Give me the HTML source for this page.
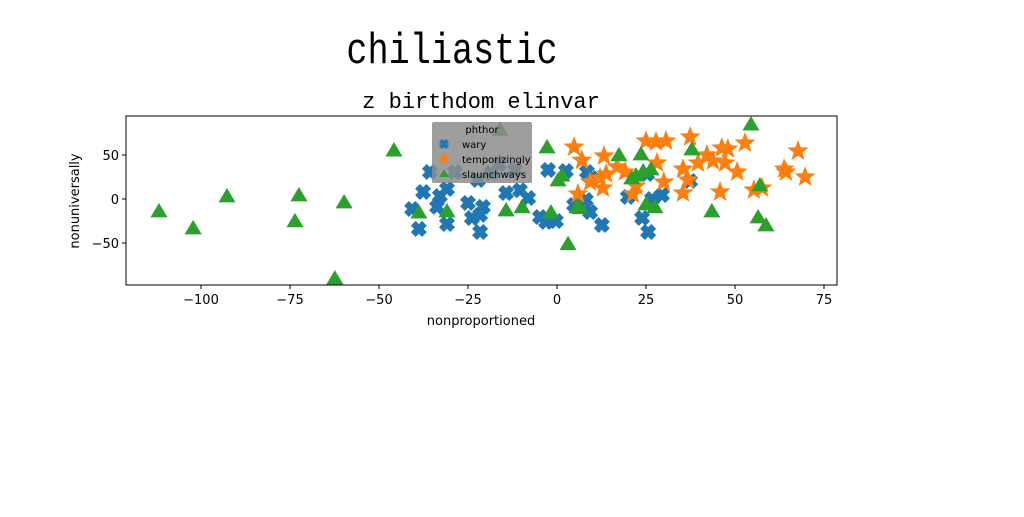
<!DOCTYPE html>
<html><head><meta charset="utf-8"><style>
body{margin:0;background:#fff;width:1024px;height:512px;overflow:hidden}
svg text{font-family:"DejaVu Sans","Liberation Sans",sans-serif}
</style></head><body>
<svg id="chart" width="1024" height="512" xmlns="http://www.w3.org/2000/svg">
<text x="0" y="0" font-size="44" text-anchor="middle" transform="translate(452,63) scale(0.8,1)" style="font-family:'Liberation Mono',monospace">chiliastic</text>
<text x="481" y="108" font-size="22" text-anchor="middle" style="font-family:'Liberation Mono',monospace">z birthdom elinvar</text>
<g id="plot"></g>
<rect x="126" y="116" width="711" height="169" fill="none" stroke="#000" stroke-width="1"/>
<text x="481" y="325" font-size="13" text-anchor="middle">nonproportioned</text>
<text transform="translate(79,201) rotate(-90)" font-size="13" text-anchor="middle">nonuniversally</text>
<g id="legend">
<rect x="432" y="122" width="100" height="61" fill="#8c8c8c" opacity="0.85" rx="2"/>
<text x="482" y="133" font-size="10" text-anchor="middle">phthor</text>
</g>
</svg>
<script>
const blueX=[-40.7,-38.8,-37.6,-35.7,-33.7,-32.9,-30.9,-30.9,-28.7,-25,-23.9,-21.6,-21.6,-20.8,-22.2,-18.5,-16.3,-14.3,-11.8,-10.4,-8.1,-4.8,-3.1,-0.3,-2.5,2.5,4.8,8.1,9.6,9.3,12.6,19.9,23.9,25.3,25.6,26.7,29.5,37.4,8.4];
const blueY=[-11.4,-34,8,30.7,-9,3.4,-28.4,11.4,30.7,-4.5,-21.6,-18,-37.5,-9,21.6,29.5,39.8,6.8,33,10,1.1,-20.5,-26,-25,33,31.8,-6.8,-1.1,23.9,-14.8,-29.5,2.3,-21.6,28.4,-37.5,0,4.5,20.5,30.7];
const orangeX=[4.8,7,5.9,12.1,13.2,12.9,16.9,19.1,21.3,22.2,25,27.8,28.1,30.6,30,35.4,35.4,37.4,36.8,39.6,42.1,43.8,45.8,46.3,48,47.2,50.6,52.8,55.3,57.6,63.8,64.3,67.7,69.7,9.3,13.8];
const orangeY=[59,44,5.7,23.9,48.9,12.5,36.4,30.7,5.7,14.8,65.9,64.8,40.9,65.9,19.3,6.8,34,70.5,21.6,40.9,50,43.2,8,58,56.8,40.9,30.7,63.6,10.2,12.5,34,30.7,54.5,25,19.3,28.4];
const greenX=[-111.8,-102.2,-92.7,-73.6,-72.5,-59.8,-62.4,-45.8,-38.8,-30.9,-16,-14.3,-9.8,-2.8,-1.7,0.3,1.4,3.1,5.6,6.5,17.4,21,22.2,23.6,24.2,25,26.4,27.5,37.9,43.5,54.5,57,56.5,58.7];
const greenY=[-14.8,-34,2.3,-26,3.4,-4.5,-91,54.5,-16,-14.8,78,-13.6,-10,58,-16,20.5,26,-52,-10,-11,49,22.7,26,50,30.7,-6.8,33,-10,55.7,-14.8,84,14.8,-21.6,-30.7];
const xTicks=[-100,-75,-50,-25,0,25,50,75];
const yTicks=[-50,0,50];
const NS="http://www.w3.org/2000/svg";
const sx=v=>557+v*3.56, sy=v=>199-v*0.88;
const plot=document.getElementById('plot');
function mk(tag,attrs,parent){const e=document.createElementNS(NS,tag);for(const k in attrs)e.setAttribute(k,attrs[k]);(parent||plot).appendChild(e);return e;}
function cross(cx,cy,s){const a=s*0.6,b=s;return `M${cx-b+a},${cy-b} L${cx},${cy-a} L${cx+b-a},${cy-b} L${cx+b},${cy-b+a} L${cx+a},${cy} L${cx+b},${cy+b-a} L${cx+b-a},${cy+b} L${cx},${cy+a} L${cx-b+a},${cy+b} L${cx-b},${cy+b-a} L${cx-a},${cy} L${cx-b},${cy-b+a} Z`;}
function star(cx,cy,r){let p='';for(let i=0;i<10;i++){const rr=i%2?r*0.42:r;const t=-Math.PI/2+i*Math.PI/5;p+=(i?'L':'M')+(cx+rr*Math.cos(t)).toFixed(1)+','+(cy+rr*Math.sin(t)).toFixed(1);}return p+'Z';}
function tri(cx,cy,r){return `M${cx},${cy-r} L${cx+r*0.95},${cy+r*0.6} L${cx-r*0.95},${cy+r*0.6} Z`;}
blueX.forEach((v,i)=>{const e=mk('path',{d:cross(sx(v),sy(blueY[i]),8),fill:'#1f77b4'});

});
orangeX.forEach((v,i)=>{const e=mk('path',{d:star(sx(v),sy(orangeY[i]),11),fill:'#ff7f0e'});

});
greenX.forEach((v,i)=>{const e=mk('path',{d:tri(sx(v),sy(greenY[i]),9),fill:'#2ca02c'});

});
xTicks.forEach(t=>{const x=sx(t);mk('line',{x1:x,x2:x,y1:285,y2:289,stroke:'#000'});
const l=mk('text',{x:x,y:304,'font-size':13,'text-anchor':'middle'});l.textContent=t<0?'\u2212'+(-t):t;

});
yTicks.forEach(t=>{const y=sy(t);mk('line',{x1:122,x2:126,y1:y,y2:y,stroke:'#000'});
const l=mk('text',{x:119,y:y+5,'font-size':13,'text-anchor':'end'});l.textContent=t<0?'\u2212'+(-t):t;

});
const lg=document.getElementById('legend');
const names=['wary','temporizingly','slaunchways'];
[['#1f77b4',cross],['#ff7f0e',star],['#2ca02c',tri]].forEach((m,i)=>{const y=144+i*15;
mk('path',{d:m[1](444,y,m[1]===star?7:5),fill:m[0]},lg);
const t=mk('text',{x:462,y:y+4,'font-size':10},lg);t.textContent=names[i];

});
</script>
</body></html>
